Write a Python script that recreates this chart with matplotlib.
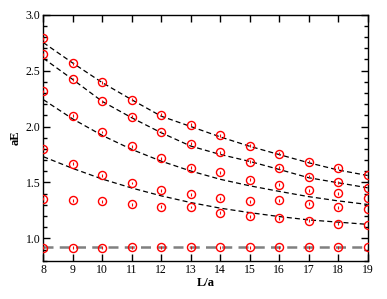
import numpy as np
import matplotlib
matplotlib.use("Agg")
import matplotlib.pyplot as plt
from matplotlib.ticker import MultipleLocator

plt.rcParams['font.family'] = ['Liberation Serif', 'DejaVu Serif']

# lattice sizes
L = [8, 9, 10, 11, 12, 13, 14, 15, 16, 17, 18, 19]

# measured energy levels (red points), lowest to highest
lev0 = [0.918, 0.917, 0.917, 0.920, 0.920, 0.920, 0.922, 0.920, 0.920, 0.922, 0.920, 0.922]
lev1 = [1.354, 1.341, 1.330, 1.306, 1.281, 1.280, 1.229, 1.199, 1.178, 1.157, 1.131, 1.122]
lev2 = [1.800, 1.666, 1.564, 1.495, 1.431, 1.395, 1.359, 1.330, 1.340, 1.310, 1.279, 1.259]
lev3 = [2.313, 2.097, 1.951, 1.825, 1.718, 1.633, 1.589, 1.526, 1.481, 1.430, 1.405, 1.362]
lev4 = [2.645, 2.422, 2.226, 2.088, 1.951, 1.844, 1.770, 1.684, 1.630, 1.553, 1.502, 1.452]
lev5 = [2.790, 2.567, 2.395, 2.239, 2.104, 2.015, 1.921, 1.829, 1.755, 1.686, 1.630, 1.562]

fit1 = [1.730, 1.625, 1.530, 1.450, 1.380, 1.320, 1.270, 1.230, 1.195, 1.165, 1.145, 1.125]
fit2 = [2.240, 2.067, 1.920, 1.795, 1.690, 1.602, 1.528, 1.470, 1.420, 1.373, 1.335, 1.303]
fit3 = [2.610, 2.420, 2.224, 2.078, 1.944, 1.825, 1.750, 1.688, 1.616, 1.542, 1.497, 1.452]
fit4 = [2.750, 2.567, 2.392, 2.239, 2.092, 2.000, 1.907, 1.823, 1.749, 1.676, 1.611, 1.562]
flat = [0.920] * len(L)

fig = plt.figure(figsize=(3.87, 2.99), dpi=100)
ax = fig.add_axes([0.112, 0.128, 0.838, 0.823])

ax.plot(L, flat, color='#808080', lw=1.8, dashes=(4, 2.5), zorder=1)
for f in [fit1, fit2, fit3, fit4]:
    ax.plot(L, f, color='black', lw=0.9, dashes=(4, 2.5), zorder=1)

for lev in [lev0, lev1, lev2, lev3, lev4, lev5]:
    ax.errorbar(L, lev, yerr=0.013, fmt='o', ms=5.8, mfc='none', mec='red',
                mew=1.0, ecolor='red', elinewidth=0.8, capsize=0, zorder=3)

ax.set_xlim(8, 19)
ax.set_ylim(0.8, 3.0)
ax.xaxis.set_major_locator(MultipleLocator(1))
ax.yaxis.set_major_locator(MultipleLocator(0.5))
ax.yaxis.set_minor_locator(MultipleLocator(0.1))
ax.tick_params(which='both', direction='in', top=True, right=True, labelsize=8.5, pad=2)
ax.tick_params(which='major', length=5, width=1)
ax.tick_params(which='minor', length=3, width=1)
for s in ax.spines.values():
    s.set_linewidth(1.0)

ax.set_xlabel('L/a', fontsize=9, fontweight='bold', labelpad=1)
ax.set_ylabel('aE', fontsize=9, fontweight='bold', labelpad=3)

fig.savefig('out.png', dpi=100)
